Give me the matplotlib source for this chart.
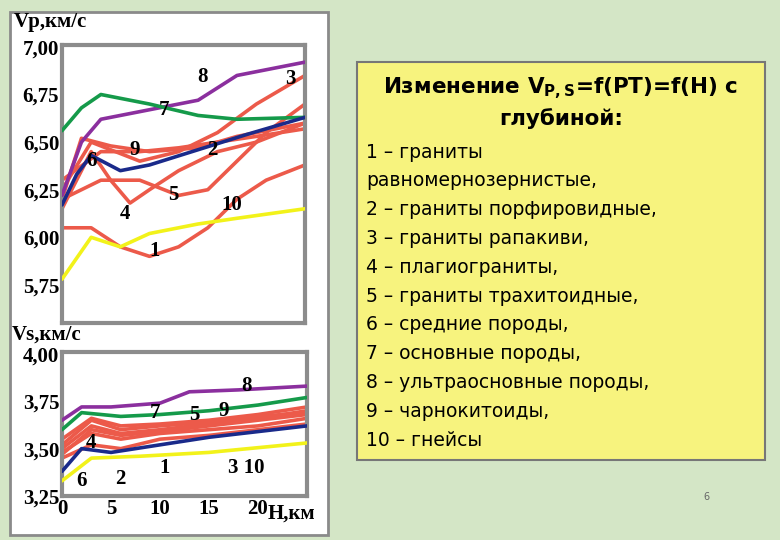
import matplotlib
matplotlib.use("Agg")
import matplotlib.pyplot as plt
from matplotlib.patches import Rectangle

# ---- data (H, km) ----
vp = {
 "8": ([0,2,4,9,14,18,25],[6.22,6.50,6.62,6.67,6.72,6.85,6.92]),
 "7": ([0,2,4,9,14,18,25],[6.56,6.68,6.75,6.70,6.64,6.62,6.63]),
 "6": ([0,1.5,3,6,9,14,19,25],[6.17,6.33,6.43,6.35,6.38,6.46,6.54,6.63]),
 "1": ([0,3,6,9,12,15,18,21,25],[6.05,6.05,5.95,5.90,5.95,6.05,6.20,6.30,6.38]),
 "10":([0,3,6,9,14,18,25],[5.78,6.00,5.95,6.02,6.07,6.10,6.15]),
 "4": ([0,3,5,7,9,12,16,20,25],[6.15,6.45,6.30,6.18,6.25,6.35,6.45,6.50,6.60]),
 "5": ([0,4,8,12,15,18,21,25],[6.20,6.30,6.30,6.22,6.25,6.40,6.55,6.70]),
 "2": ([0,4,8,12,16,20,25],[6.30,6.45,6.45,6.47,6.50,6.53,6.57]),
 "3": ([0,3,8,12,16,20,25],[6.25,6.50,6.40,6.45,6.55,6.70,6.85]),
 "9": ([0,2,5,9,14,18,25],[6.20,6.52,6.48,6.45,6.47,6.53,6.60]),
}
vs = {
 "8": ([0,2,5,10,13,18,25],[3.65,3.72,3.72,3.74,3.80,3.81,3.83]),
 "7": ([0,2,6,10,15,20,25],[3.60,3.69,3.67,3.68,3.70,3.73,3.77]),
 "6": ([0,2,5,10,15,25],[3.38,3.50,3.48,3.52,3.56,3.62]),
 "10":([0,3,8,15,25],[3.33,3.45,3.46,3.48,3.53]),
 "1": ([0,3,6,10,15,20,25],[3.45,3.52,3.50,3.55,3.57,3.60,3.63]),
 "2": ([0,3,6,10,15,20,25],[3.48,3.58,3.55,3.58,3.60,3.62,3.66]),
 "3": ([0,3,6,10,15,20,25],[3.50,3.62,3.58,3.60,3.63,3.66,3.70]),
 "4": ([0,3,6,10,15,20,25],[3.52,3.65,3.60,3.62,3.64,3.67,3.69]),
 "5": ([0,3,6,10,15,20,25],[3.55,3.66,3.62,3.63,3.65,3.68,3.72]),
 "9": ([0,3,6,10,15,20,25],[3.47,3.60,3.57,3.59,3.62,3.65,3.68]),
}
colors = {"8":"#8b2f9e","7":"#159a4a","6":"#1a2a8a","10":"#f2f21a"}
red = "#ec5a4a"
vp_ticks = [5.75,6.00,6.25,6.50,6.75,7.00]
vs_ticks = [3.25,3.50,3.75,4.00]
x_ticks = [0,5,10,15,20]
items = ["1 – граниты", "равномернозернистые,", "2 – граниты порфировидные,",
 "3 – граниты рапакиви,", "4 – плагиограниты,", "5 – граниты трахитоидные,",
 "6 – средние породы,", "7 – основные породы,", "8 – ультраосновные породы,",
 "9 – чарнокитоиды,", "10 – гнейсы"]

W, H = 780, 540
fig = plt.figure(figsize=(7.8,5.4), dpi=100, facecolor="#d4e6c6")
def fx(x): return x/W
def fy(y): return 1-y/H
fig.patches.append(Rectangle((fx(10),fy(535)), fx(318), 523/H, transform=fig.transFigure,
    facecolor="white", edgecolor="#8a8a8a", lw=2, zorder=-10))
fig.patches.append(Rectangle((fx(357),fy(460)), fx(408), 398/H, transform=fig.transFigure,
    facecolor="#f7f37e", edgecolor="#777", lw=1.5, zorder=-10))

serif = dict(family="Liberation Serif", weight="bold")
def setup(ax, ticks, lo, hi, xlabels):
    ax.set_xlim(0,25); ax.set_ylim(lo,hi)
    ax.patch.set_alpha(0)
    for s in ax.spines.values():
        s.set_color("#8c8c8c"); s.set_linewidth(3)
    ax.set_yticks(ticks)
    ax.set_yticklabels([f"{t:.2f}".replace(".",",") for t in ticks], fontsize=15, **serif)
    ax.set_xticks(x_ticks)
    if xlabels:
        ax.set_xticklabels([str(t) for t in x_ticks], fontsize=15, **serif)
    else:
        ax.set_xticklabels([])
    ax.tick_params(length=0, pad=2)

ax1 = fig.add_axes([fx(62), fy(323), 243/W, 278/H])
ax2 = fig.add_axes([fx(62), fy(496), 245/W, 144/H])
setup(ax1, vp_ticks, 5.55, 7.01, False)
setup(ax2, vs_ticks, 3.25, 4.01, True)
for ax, d in ((ax1, vp), (ax2, vs)):
    for k,(x,y) in d.items():
        ax.plot(x, y, color=colors.get(k, red), lw=2.6, solid_capstyle="round",
                solid_joinstyle="round", zorder=3 if k in colors else 2)

lab1 = {"8":(14.5,6.84),"3":(23.5,6.83),"7":(10.5,6.67),"9":(7.5,6.46),"6":(3,6.40),
        "2":(15.5,6.46),"5":(11.5,6.22),"4":(6.5,6.12),"10":(17.5,6.17),"1":(9.5,5.93)}
for k,(x,y) in lab1.items():
    ax1.text(x,y,k,fontsize=15,ha="center",va="center",**serif)
lab2 = {"8":(18.8,3.83),"7":(9.5,3.69),"5":(13.5,3.68),"9":(16.5,3.70),"4":(3,3.53),
        "1":(10.5,3.40),"6":(2,3.33),"2":(6,3.34),"3 10":(18.8,3.40)}
for k,(x,y) in lab2.items():
    ax2.text(x,y,k,fontsize=15,ha="center",va="center",**serif)
fig.text(fx(14),fy(22),"Vp,км/с",fontsize=15,va="center",**serif)
fig.text(fx(12),fy(335),"Vs,км/с",fontsize=15,va="center",**serif)
fig.text(fx(268),fy(514),"Н,км",fontsize=15,va="center",**serif)

fig.text(fx(561),fy(88),"Изменение V$_{\\mathregular{P,S}}$=f(PT)=f(H) с",fontsize=15.5,
         ha="center",va="center",family="DejaVu Sans",weight="bold")
fig.text(fx(561),fy(119),"глубиной:",fontsize=15.5,ha="center",va="center",
         family="DejaVu Sans",weight="bold")
for i,t in enumerate(items):
    fig.text(fx(366),fy(152+i*28.8),t,fontsize=13.5,va="center",family="DejaVu Sans")
fig.text(fx(706),fy(500),"6",fontsize=7,color="#666",ha="center")
fig.savefig("out.png", dpi=100, facecolor=fig.get_facecolor())
